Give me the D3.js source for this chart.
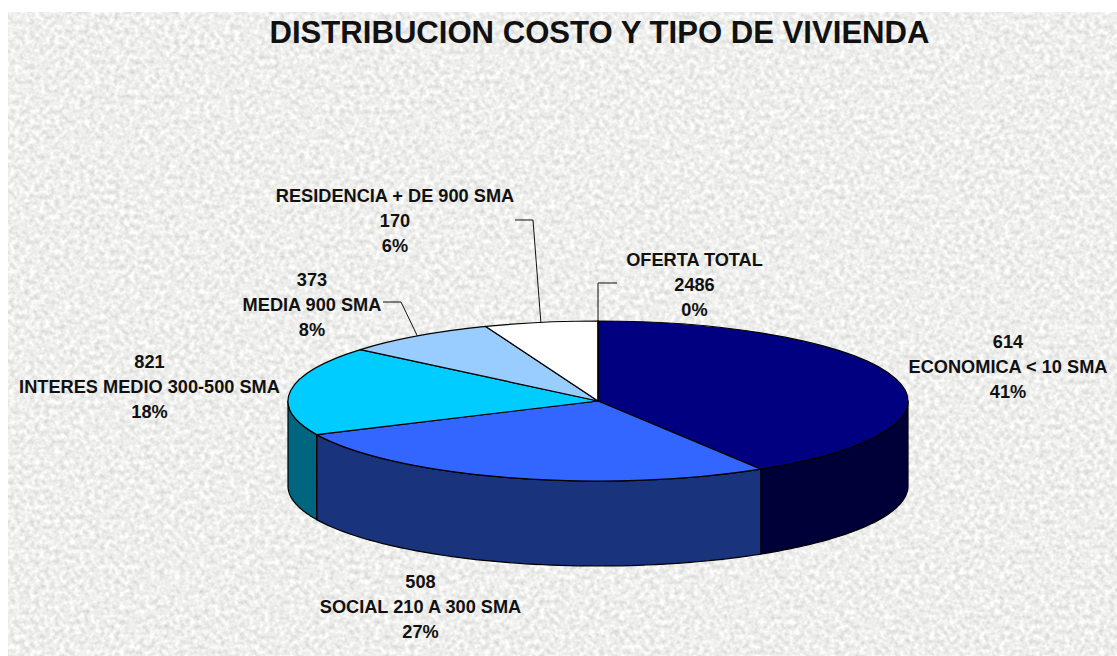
<!DOCTYPE html>
<html>
<head>
<meta charset="utf-8">
<script src="https://cdn.jsdelivr.net/npm/d3@7"></script>
<style>
    html, body { margin: 0; padding: 0; background: #fff; }
    svg { display: block; }
    text { font-family: "Liberation Sans", Arial, sans-serif; font-weight: bold; fill: #111; }
</style>
</head>
<body>
<div id="chart"></div>
<script>
// Data
var categories = ['ECONOMICA < 10 SMA', 'SOCIAL 210 A 300 SMA', 'INTERES MEDIO 300-500 SMA', 'MEDIA 900 SMA', 'RESIDENCIA + DE 900 SMA', 'OFERTA TOTAL'];
var counts = [614, 508, 821, 373, 170, 2486];
var shares = [41, 27, 18, 8, 6, 0];
// slice sizes as measured on the drawing, the labels above are rounded
var sliceSizes = [41.2, 26.9, 18, 8, 5.9, 0];
var topColors = ['#000080', '#3366ff', '#00ccff', '#99ccff', '#ffffff', '#ffffff'];
var sideColors = ['#000038', '#19337c', '#006680', '#4d6680', '#808080', '#808080'];
var title = 'DISTRIBUCION COSTO Y TIPO DE VIVIENDA';

// Layout
var width = 1117, height = 656;
var cx = 598, cy = 401, rx = 310, ry = 80, depth = 85;

// label centre x, first line y, and whether the category comes first
var labelPos = [
    { x: 1008, y: 348, nameFirst: false },
    { x: 420.5, y: 588, nameFirst: false },
    { x: 149.5, y: 368, nameFirst: false },
    { x: 312, y: 286, nameFirst: false },
    { x: 395, y: 202, nameFirst: true },
    { x: 694.5, y: 266, nameFirst: true }
];
var leaderElbows = { 3: [[383, 302], [401, 302]], 4: [[515, 220], [533, 220]], 5: [[617, 283], [598, 283]] };

var svg = d3.select('#chart').append('svg')
    .attr('width', width)
    .attr('height', height);

// Stone texture background
var defs = svg.append('defs');
var stone = defs.append('filter')
    .attr('id', 'stone')
    .attr('x', 0).attr('y', 0).attr('width', '100%').attr('height', '100%')
    .attr('color-interpolation-filters', 'sRGB');
stone.append('feTurbulence')
    .attr('type', 'fractalNoise')
    .attr('baseFrequency', 0.2)
    .attr('numOctaves', 2)
    .attr('seed', 7);
stone.append('feColorMatrix')
    .attr('values', '0.26 0 0 0 0.805  0.26 0 0 0 0.805  0.26 0 0 0 0.8  0 0 0 0 1');
stone.append('feGaussianBlur').attr('stdDeviation', 0.6);

svg.append('rect')
    .attr('x', 8).attr('y', 12)
    .attr('width', width - 8).attr('height', height - 12)
    .attr('filter', 'url(#stone)');

svg.append('text')
    .attr('x', 599.5)
    .attr('y', 43)
    .attr('text-anchor', 'middle')
    .style('font-size', '31.1px')
    .text(title);

var slices = d3.pie().sort(null).value(d => d)(sliceSizes);

// Point on the top ellipse, angle clockwise from 12 o'clock
function rim(a, drop) {
    return [cx + rx * Math.sin(a), cy - ry * Math.cos(a) + (drop || 0)];
}

// Outer wall, only the part facing the viewer
var line = d3.line();
var wall = svg.append('g');
slices.forEach((s, i) => {
    var a0 = Math.max(s.startAngle, Math.PI / 2);
    var a1 = Math.min(s.endAngle, Math.PI * 1.5);
    if (a1 <= a0) return;
    var angles = d3.range(0, 61).map(k => a0 + (a1 - a0) * k / 60);
    var upper = angles.map(a => rim(a));
    var lower = angles.slice().reverse().map(a => rim(a, depth));
    wall.append('path')
        .attr('d', line(upper.concat(lower)) + 'Z')
        .attr('fill', sideColors[i])
        .attr('stroke', '#000')
        .attr('stroke-width', 1.2)
        .attr('stroke-linejoin', 'round');
});

// Top face: circular arcs squashed into the ellipse
var arc = d3.arc().innerRadius(0).outerRadius(rx);
svg.append('g')
    .attr('transform', `translate(${cx},${cy}) scale(1,${ry / rx})`)
    .selectAll('path')
    .data(slices)
    .join('path')
    .attr('d', arc)
    .attr('fill', (d, i) => topColors[i])
    .attr('stroke', '#000')
    .attr('stroke-width', 1.2)
    .attr('stroke-linejoin', 'round')
    .attr('vector-effect', 'non-scaling-stroke');

// Leader lines end at the middle of their slice
Object.keys(leaderElbows).forEach(k => {
    var s = slices[k];
    var tip = rim((s.startAngle + s.endAngle) / 2);
    svg.append('path')
        .attr('d', line(leaderElbows[k].concat([tip])))
        .attr('fill', 'none')
        .attr('stroke', '#111')
        .attr('stroke-width', 1);
});

// Labels
var lineHeight = 25;
categories.forEach((name, i) => {
    var p = labelPos[i];
    var rows = p.nameFirst
        ? [name, counts[i], shares[i] + '%']
        : [counts[i], name, shares[i] + '%'];
    rows.forEach((row, r) => {
        svg.append('text')
            .attr('x', p.x)
            .attr('y', p.y + r * lineHeight)
            .attr('text-anchor', 'middle')
            .style('font-size', '18.2px')
            .text(row);
    });
});
</script>
</body>
</html>
